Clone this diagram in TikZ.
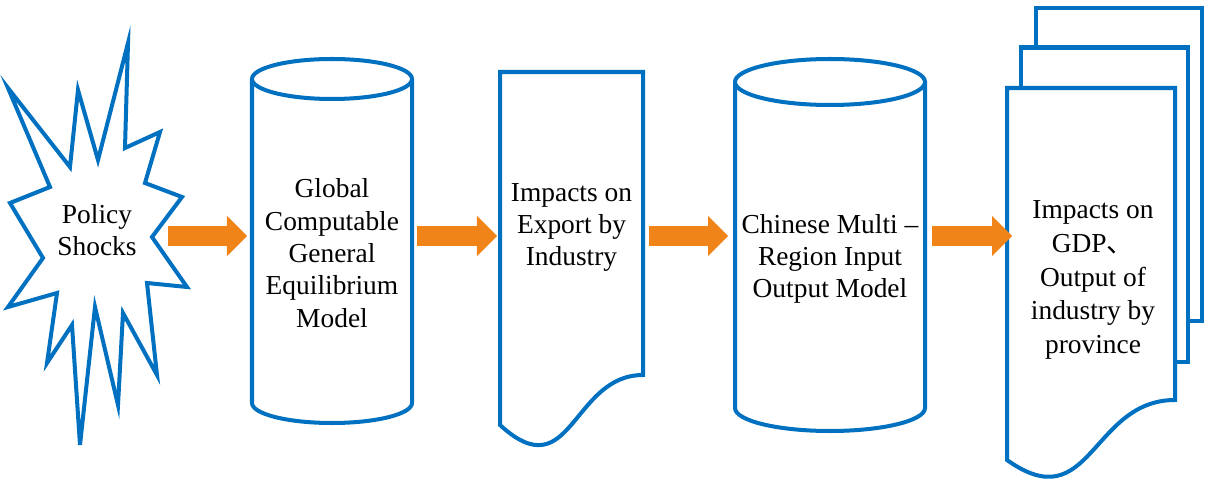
\documentclass[tikz,border=0pt]{standalone}
\usepackage{fontspec}
\setmainfont{Liberation Serif}
\newfontfamily\cjk{Noto Sans CJK SC}
\usetikzlibrary{arrows.meta}
\definecolor{shapeblue}{RGB}{0,112,192}
\definecolor{flowgold}{RGB}{240,132,24}
\tikzset{
  outline/.style={draw=shapeblue, line width=2.85pt, fill=white},
  boxtext/.style={align=center, inner sep=0pt, font=\fontsize{19.5}{23}\selectfont},
  flow/.style={draw=flowgold, line width=0.5cm, -{Triangle[length=0.5cm, width=1cm, line width=0pt]}}
}

\begin{document}
\begin{tikzpicture}[x=0.025cm, y=0.025cm]
  \useasboundingbox (0,0) rectangle (1205,481);

  % Burst for the policy shocks
  \draw[outline] (8,393) -- (70,314) -- (78,391) -- (98,321) -- (128,438) -- (125,333)
    -- (160,349) -- (145,298) -- (182,284) -- (152,244) -- (187,194) -- (147,198)
    -- (157,106) -- (123,168) -- (118,76) -- (95,174) -- (80,36) -- (72,156)
    -- (47,118) -- (57,188) -- (8,174) -- (43,223) -- (10,278) -- (50,294) -- cycle;
  \node[boxtext] (shock) at (97,251) {Policy\\Shocks};

  % Two model cylinders
  \foreach \cx/\rx/\ry/\ytop/\ybot in {332/80/20/402/78, 830/95/23/399/73} {
    \draw[outline] (\cx-\rx,\ytop) -- (\cx-\rx,\ybot)
      arc[start angle=180, end angle=360, x radius=\rx, y radius=\ry] -- (\cx+\rx,\ytop);
    \draw[outline] (\cx,\ytop) ellipse[x radius=\rx, y radius=\ry];
  }
  \node[boxtext] (cge) at (332,228) {Global\\Computable\\General\\Equilibrium\\Model};
  \node[boxtext] (mrio) at (830,222) {Chinese Multi --\\Region Input\\Output Model};

  % Document: export impacts
  \draw[outline] (500,409) -- (643,409) -- (643,106)
    .. controls (571.5,106) and (571.5,-9.6) .. (500,56) -- cycle;
  \node[boxtext] (export) at (571.5,253.5) {Impacts on\\Export by\\Industry};

  % Stack of documents: provincial impacts
  \draw[outline] (1036,473) rectangle (1202,160);
  \draw[outline] (1021,433.5) rectangle (1188,119);
  \draw[outline] (1007,393) -- (1175,393) -- (1175,81)
    .. controls (1091,81) and (1091,-39) .. (1007,21) -- cycle;
  \node[boxtext, font=\fontsize{19.5}{24}\selectfont] (gdp) at (1093,201)
    {Impacts on\\GDP{\cjk 、}\\Output of\\industry by\\province};

  % Arrow ends
  \coordinate (shock-out) at (168,245);
  \coordinate (cge-in) at (247,245);
  \coordinate (cge-out) at (417,245);
  \coordinate (export-in) at (497,245);
  \coordinate (export-out) at (649,245);
  \coordinate (mrio-in) at (728,245);
  \coordinate (mrio-out) at (932,245);
  \coordinate (gdp-in) at (1012,245);

  \foreach \a/\b in {shock-out/cge-in, cge-out/export-in, export-out/mrio-in, mrio-out/gdp-in}
    \draw[flow] (\a) -- (\b);
\end{tikzpicture}
\end{document}
